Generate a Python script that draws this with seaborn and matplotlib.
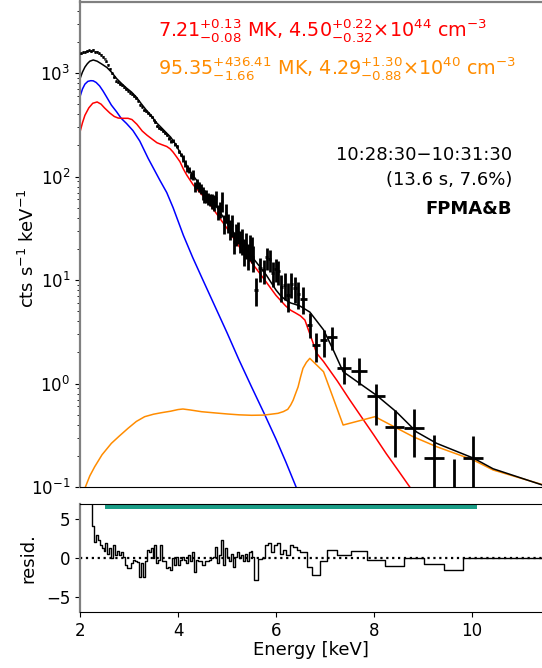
import numpy as np
import pandas as pd
import matplotlib
matplotlib.use("Agg")
import matplotlib.pyplot as plt
import seaborn as sns

# ---------------------------------------------------------------------------
# Spectrum: 0.04 keV channels from 2.00 to 5.56 keV, then grouped bins
# ---------------------------------------------------------------------------
chan_lo, chan_hi, chan_w = 2.00, 5.56, 0.04

dense_counts = [1550, 1580, 1610, 1630, 1650, 1630, 1676, 1613, 1597, 1551,
                1505, 1438, 1372, 1299, 1197, 1104, 990, 915, 833, 812,
                783, 758, 729, 699, 676, 646, 623, 599, 573, 542,
                493, 472, 439, 426, 412, 391, 373, 348, 334, 308,
                295, 289, 273, 264, 252, 235, 220, 222, 204, 196,
                173, 163, 149.5, 134, 120, 116, 102, 104, 79, 85,
                79, 76.5, 68.6, 65, 64.3, 61.4, 59.8, 58, 56.3, 61.4,
                45.5, 48.2, 58, 34.9, 44.8, 36, 31, 34.2, 23.5, 27.9,
                29.2, 24, 24.3, 19.3, 22.4, 17.5, 21.1, 20.2, 16.6]
dense_err = [19, 19, 19, 20, 20, 20, 20, 19, 19, 19,
             18, 17, 16, 16, 14, 13, 12, 11, 10, 12,
             12, 11, 11, 10, 10, 10, 9, 9, 9, 8,
             7, 7, 7, 6, 6, 9, 8, 8, 7, 7,
             6.5, 6.4, 6, 5.8, 5.5, 8.2, 7.7, 7.8, 7.1, 6.9,
             6.1, 5.7, 10.5, 9.4, 8.4, 8.1, 7.1, 11.6, 8.8, 9.5,
             8.8, 8.5, 9.7, 9.1, 9.0, 8.5, 8.4, 9.8, 9.5, 10.4,
             7.7, 8.1, 12.2, 7.3, 9.4, 7.6, 6.6, 8.1, 5.6, 6.6,
             7.0, 5.7, 6.9, 5.5, 6.3, 4.9, 5.9, 5.6, 4.6]
dense_resid = [13.8, 12.1, 10.0, 9.3, 8.2, 7.4, 4.1, 2.1, 3.0, 2.4,
               1.7, 1.3, 0.9, 1.9, 0.6, 1.3, 0.0, 1.7, 0.4, 0.9,
               0.4, 0.85, 0.2, -0.85, -1.3, -1.3, -0.6, -0.2, -0.4, -0.5,
               -2.4, -0.6, -2.4, -0.4, 1.1, 0.85, 1.3, 0.0, 1.7, -0.6,
               -0.2, 1.7, -0.4, -0.4, -1.3, -1.1, -1.5, 0.0, -0.85, 0.2,
               -0.85, -0.2, 0.2, -0.2, -0.6, 0.4, -0.4, 0.85, -1.7, -0.2,
               -0.4, -0.4, -0.85, -0.85, -0.4, -0.4, -0.2, 0.0, 0.2, 1.5,
               -0.6, 0.4, 2.35, -0.85, 1.3, 0.2, -0.4, 0.6, -1.1, 0.2,
               0.85, 0.0, 0.4, -0.4, 0.6, -0.4, 0.85, 0.95, 0.2]

wide_edges = [5.56, 5.64, 5.71, 5.78, 5.84, 5.90, 5.96, 6.02, 6.08, 6.14,
              6.21, 6.28, 6.35, 6.42, 6.49, 6.63, 6.74, 6.90, 7.05, 7.25,
              7.53, 7.85, 8.22, 8.62, 9.02, 9.43, 9.82, 10.23]
wide_counts = [8.0, 13.0, 12.4, 16.5, 15.8, 11.8, 12.8, 12.2, 8.6, 9.0,
               7.1, 9.2, 8.4, 7.4, 6.6, 3.67, 2.35, 2.63, 2.83, 1.40,
               1.33, 0.757, 0.383, 0.374, 0.19, 0.06, 0.19]
wide_err_up = [2.4, 3.4, 3.3, 4.0, 3.9, 3.2, 3.3, 3.2, 2.5, 2.6,
               2.2, 2.5, 2.4, 2.2, 1.9, 1.1, 0.7, 0.66, 0.71, 0.42,
               0.44, 0.24, 0.17, 0.19, 0.13, 0.125, 0.12]
wide_err_dn = [2.4, 3.4, 3.3, 4.0, 3.9, 3.2, 3.3, 3.2, 2.5, 2.6,
               2.2, 2.5, 2.4, 2.2, 1.9, 0.93, 0.72, 0.81, 0.72, 0.40,
               0.37, 0.36, 0.19, 0.18, 0.18, 0.055, 0.18]
wide_resid = [-2.8, -0.1, 0.1, 1.7, 1.9, 0.85, 1.7, 1.9, 0.6, 1.1,
              0.4, 1.7, 1.5, 1.1, 0.85, -1.1, -2.1, -0.4, 1.0, 0.45,
              0.9, -0.2, -1.0, 0.0, -0.7, -1.5, 0.0]

# ---------------------------------------------------------------------------
# Fitted model components (cts s^-1 keV^-1)
# ---------------------------------------------------------------------------
total_E = [2.00, 2.05, 2.10, 2.15, 2.20, 2.27, 2.35, 2.45, 2.55, 2.65,
           2.75, 2.85, 2.95, 3.05, 3.15, 3.25, 3.35, 3.45, 3.55, 3.65,
           3.75, 3.85, 3.95, 4.05, 4.15, 4.25, 4.35, 4.45, 4.60, 4.80,
           5.00, 5.20, 5.40, 5.60, 5.80, 6.00, 6.10, 6.20, 6.30, 6.40,
           6.49, 6.69, 6.97, 7.17, 7.37, 7.71, 8.05, 8.46, 8.87, 9.28,
           10.03, 10.43, 11.45]
total_v = [880, 1020, 1140, 1230, 1300, 1336, 1300, 1215, 1130, 1010,
           880, 790, 715, 655, 585, 505, 440, 390, 335, 300,
           268, 240, 205, 168, 135, 112, 96, 83, 66, 50,
           35.5, 26, 19.5, 14.8, 11.2, 8.0, 7.0, 6.4, 6.0, 5.8,
           5.6, 4.9, 3.3, 2.1, 1.3, 1.0, 0.77, 0.53, 0.34, 0.264,
           0.19, 0.15, 0.104]

warm_E = [2.00, 2.05, 2.10, 2.18, 2.26, 2.35, 2.43, 2.50, 2.61, 2.70,
          2.78, 2.88, 2.98, 3.06, 3.16, 3.27, 3.37, 3.47, 3.57, 3.67,
          3.77, 3.84, 3.90, 3.97, 4.04, 4.11, 4.18, 4.31, 4.59, 5.00,
          5.25, 5.50, 5.75, 6.00, 6.10, 6.20, 6.30, 6.40, 6.50, 6.59,
          6.76, 6.83, 6.97, 7.25, 7.50, 7.75, 8.00, 8.25, 8.50, 8.75]
warm_v = [269, 330, 390, 460, 510, 525, 500, 460, 410, 380,
          367, 365, 365, 355, 320, 275, 250, 230, 212, 203,
          195, 185, 172, 155, 139, 118, 103, 83, 59, 31.6,
          21, 14.8, 10.3, 7.1, 6.3, 5.6, 5.1, 4.8, 4.5, 4.1,
          2.44, 1.96, 1.63, 1.06, 0.70, 0.47, 0.316, 0.21, 0.143, 0.097]

cool_E = [2.00, 2.05, 2.10, 2.16, 2.22, 2.27, 2.33, 2.40, 2.47, 2.54,
          2.64, 2.75, 2.84, 2.95, 3.08, 3.22, 3.39, 3.63, 3.77, 3.90,
          4.11, 4.30, 4.50, 5.00, 5.245, 5.50, 5.77, 6.00, 6.20, 6.41,
          6.60]
cool_v = [590, 700, 780, 830, 843, 840, 810, 750, 670, 590,
          490, 420, 365, 325, 278, 220, 150, 92, 70, 50,
          27, 16.5, 10.2, 3.1, 1.69, 0.93, 0.50, 0.29, 0.175, 0.10,
          0.064]

hot_E = [2.11, 2.20, 2.30, 2.45, 2.64, 2.80, 2.98, 3.15, 3.32, 3.50,
         3.66, 3.85, 4.00, 4.10, 4.25, 4.48, 4.75, 5.02, 5.25, 5.50,
         5.75, 6.04, 6.15, 6.24, 6.30, 6.35, 6.40, 6.45, 6.50, 6.55,
         6.62, 6.69, 6.97, 7.37, 8.02, 8.80, 9.28, 10.03, 10.43, 11.45]
hot_v = [0.1, 0.128, 0.157, 0.205, 0.264, 0.31, 0.369, 0.43, 0.478, 0.505,
         0.522, 0.54, 0.56, 0.567, 0.555, 0.534, 0.52, 0.507, 0.498, 0.493,
         0.495, 0.515, 0.535, 0.563, 0.62, 0.69, 0.80, 0.925, 1.15, 1.4,
         1.6, 1.75, 1.3, 0.397, 0.478, 0.306, 0.245, 0.182, 0.146, 0.105]

fit_band = [2.5, 10.1]

# ---------------------------------------------------------------------------
# Assemble bins
# ---------------------------------------------------------------------------
dense_edges = np.round(np.arange(chan_lo, chan_hi + 1e-6, chan_w), 2)
edges = np.concatenate([dense_edges, np.array(wide_edges[1:])])
counts = np.array(dense_counts + wide_counts, dtype=float)
err_dn = np.array(dense_err + wide_err_dn, dtype=float)
err_up = np.array(dense_err + wide_err_up, dtype=float)
resid = np.array(dense_resid + wide_resid, dtype=float)
centers = 0.5 * (edges[:-1] + edges[1:])
halfw = 0.5 * (edges[1:] - edges[:-1])

# ---------------------------------------------------------------------------
# Figure
# ---------------------------------------------------------------------------
sns.set_style("ticks")
plt.rcParams["font.family"] = ["DejaVu Sans"]
plt.rcParams["mathtext.fontset"] = "dejavusans"
plt.rcParams.update({"text.color": "black", "axes.labelcolor": "black",
                     "xtick.color": "black", "ytick.color": "black"})

W, H = 542, 668
fig = plt.figure(figsize=(W / 100, H / 100), dpi=100)
left = 80 / W
ax = fig.add_axes([left, 1 - 487 / H, 1 - left, (487 - 1.5) / H])
axr = fig.add_axes([left, 1 - 612.3 / H, 1 - left, 108 / H])

xmax = 2 + (W - 80) / 49.0

# models
lw = 1.1
sns.lineplot(x=cool_E, y=cool_v, ax=ax, color="#0000ff", lw=lw, sort=False, estimator=None)
sns.lineplot(x=warm_E, y=warm_v, ax=ax, color="#ff0000", lw=lw, sort=False, estimator=None)
sns.lineplot(x=hot_E, y=hot_v, ax=ax, color="#ff8c00", lw=lw, sort=False, estimator=None)
sns.lineplot(x=total_E, y=total_v, ax=ax, color="black", lw=lw, sort=False, estimator=None)

# observed spectrum
ax.errorbar(centers, counts, xerr=halfw, yerr=[err_dn, err_up], fmt="none",
            ecolor="black", elinewidth=2.0, capsize=0, zorder=5)

ax.set_yscale("log")
ax.set_xlim(2, xmax)
ax.set_ylim(0.1, 10 ** (-1 + 485.5 / 103.5))
ax.tick_params(axis="x", bottom=False, labelbottom=False)
ax.tick_params(axis="y", labelsize=12)
ax.set_xlabel("")
ax.set_ylabel("")
for s in ("left", "top"):
    ax.spines[s].set_color("#808080")
    ax.spines[s].set_linewidth(1.6)
ax.spines["bottom"].set_color("black")
ax.spines["right"].set_visible(False)

# residuals
step_x = list(edges) + [xmax]
step_y = list(resid) + [0.0, 0.0]
sns.lineplot(x=step_x, y=step_y, ax=axr, color="black", lw=1.0,
             drawstyle="steps-post", sort=False, estimator=None)
axr.axhline(0, color="black", ls=":", lw=1.6)
axr.fill_between(fit_band, 6.3, 7.2, color="#1a9e87", lw=0, zorder=0)
axr.set_xlim(2, xmax)
axr.set_ylim(-6.92, 6.92)
axr.set_yticks([-5, 0, 5])
axr.set_xticks([2, 4, 6, 8, 10])
axr.tick_params(labelsize=12)
axr.set_xlabel("")
axr.set_ylabel("")
axr.spines["left"].set_color("#808080")
axr.spines["left"].set_linewidth(1.6)
axr.spines["top"].set_color("black")
axr.spines["bottom"].set_color("black")
axr.spines["right"].set_visible(False)

# labels
fig.text(28 / W, 1 - 248 / H, r"cts s$^{-1}$ keV$^{-1}$", rotation=90,
         ha="center", va="center", fontsize=13)
fig.text(28 / W, 1 - 558 / H, "resid.", rotation=90, ha="center", va="center", fontsize=13)
fig.text(311 / W, 1 - 650 / H, "Energy [keV]", ha="center", va="center", fontsize=13)

fig.text(158 / W, 1 - 30 / H,
         r"$7.21^{+0.13}_{-0.08}$ MK, $4.50^{+0.22}_{-0.32}{\times}10^{44}$ cm$^{-3}$",
         color="#ff0000", fontsize=13.8, ha="left", va="center")
fig.text(158 / W, 1 - 69 / H,
         r"$95.35^{+436.41}_{-1.66}$ MK, $4.29^{+1.30}_{-0.88}{\times}10^{40}$ cm$^{-3}$",
         color="#ff8c00", fontsize=13.8, ha="left", va="center")
fig.text(512 / W, 1 - 155 / H, "10:28:30\u221210:31:30", ha="right", va="center", fontsize=13)
fig.text(512 / W, 1 - 180 / H, "(13.6 s, 7.6%)", ha="right", va="center", fontsize=13)
fig.text(512 / W, 1 - 209 / H, "FPMA&B", ha="right", va="center", fontsize=13,
         fontweight="bold")

fig.savefig("out.png", dpi=100)
